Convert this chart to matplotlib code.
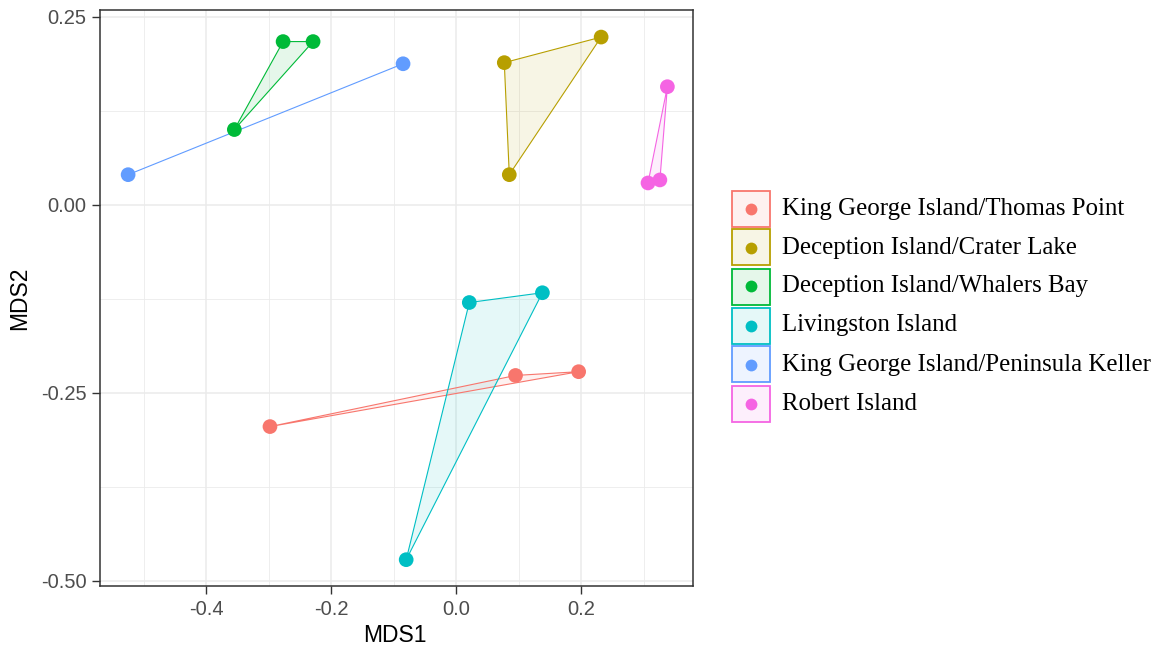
import matplotlib
matplotlib.use("Agg")
import matplotlib.pyplot as plt
from matplotlib.patches import Polygon, Rectangle
from matplotlib.lines import Line2D
import numpy as np

groups = ["King George Island/Thomas Point", "Deception Island/Crater Lake",
          "Deception Island/Whalers Bay", "Livingston Island",
          "King George Island/Peninsula Keller", "Robert Island"]
colors = ["#F8766D", "#B79F00", "#00BA38", "#00BFC4", "#619CFF", "#F564E3"]

mds1 = {
    "King George Island/Thomas Point": [-0.298, 0.095, 0.196],
    "Deception Island/Crater Lake": [0.077, 0.232, 0.085],
    "Deception Island/Whalers Bay": [-0.277, -0.229, -0.355],
    "Livingston Island": [0.021, 0.138, -0.080],
    "King George Island/Peninsula Keller": [-0.525, -0.085],
    "Robert Island": [0.338, 0.307, 0.326],
}
mds2 = {
    "King George Island/Thomas Point": [-0.295, -0.227, -0.222],
    "Deception Island/Crater Lake": [0.189, 0.223, 0.040],
    "Deception Island/Whalers Bay": [0.217, 0.217, 0.100],
    "Livingston Island": [-0.130, -0.117, -0.472],
    "King George Island/Peninsula Keller": [0.040, 0.1875],
    "Robert Island": [0.157, 0.029, 0.033],
}

x_ticks = [-0.4, -0.2, 0.0, 0.2]
x_labels = ["-0.4", "-0.2", "0.0", "0.2"]
y_ticks = [-0.50, -0.25, 0.00, 0.25]
y_labels = ["-0.50", "-0.25", "0.00", "0.25"]


def convex_hull(pts):
    pts = sorted(set(pts))
    if len(pts) <= 2:
        return pts
    def cross(o, a, b):
        return (a[0]-o[0])*(b[1]-o[1]) - (a[1]-o[1])*(b[0]-o[0])
    lower = []
    for p in pts:
        while len(lower) >= 2 and cross(lower[-2], lower[-1], p) <= 0:
            lower.pop()
        lower.append(p)
    upper = []
    for p in reversed(pts):
        while len(upper) >= 2 and cross(upper[-2], upper[-1], p) <= 0:
            upper.pop()
        upper.append(p)
    return lower[:-1] + upper[:-1]


W, H = 1156, 651
fig = plt.figure(figsize=(W/100, H/100), dpi=100)
ax = fig.add_axes([100/W, 1-586/H, (693-100)/W, (586-10)/H])

for g, c in zip(groups, colors):
    pts = list(zip(mds1[g], mds2[g]))
    hull = convex_hull(pts)
    ax.add_patch(Polygon(hull, closed=True, facecolor=c, alpha=0.1,
                         edgecolor="none", zorder=2))
    ax.add_patch(Polygon(hull, closed=True, facecolor="none", edgecolor=c,
                         linewidth=0.8, zorder=3))

for g, c in zip(groups, colors):
    ax.scatter(mds1[g], mds2[g], s=112, color=c, edgecolors="none", zorder=4)

ax.set_xlim(-0.570, 0.379)
ax.set_ylim(-0.507, 0.259)
ax.set_xticks(x_ticks)
ax.set_xticklabels(x_labels)
ax.set_yticks(y_ticks)
ax.set_yticklabels(y_labels)
ax.set_xticks([-0.5, -0.3, -0.1, 0.1, 0.3], minor=True)
ax.set_yticks([-0.375, -0.125, 0.125], minor=True)
ax.grid(True, which="major", color="#EBEBEB", linewidth=1.1, zorder=0)
ax.grid(True, which="minor", color="#EBEBEB", linewidth=0.6, zorder=0)
ax.set_axisbelow(True)
ax.tick_params(which="minor", length=0)
ax.tick_params(which="major", length=5.8, width=1.0, color="#333333",
               labelsize=14.5, labelcolor="#4D4D4D", pad=4)
for lab in ax.get_xticklabels() + ax.get_yticklabels():
    lab.set_fontfamily("Liberation Sans")
for s in ax.spines.values():
    s.set_color("#333333")
    s.set_linewidth(1.1)

ax.set_xlabel("MDS1", fontsize=16.5, fontfamily="Liberation Sans")
ax.set_ylabel("MDS2", fontsize=16.5, fontfamily="Liberation Sans")
ax.xaxis.set_label_coords((395-100)/593, (586-635)/576)
ax.yaxis.set_label_coords((20-100)/593, 0.5)
ax.xaxis.label.set_va("center")
ax.yaxis.label.set_va("center")

# legend drawn in figure pixel coordinates
row0, step = 208.5, 39.0
bx0, bw, bh = 732, 38, 36
for i, (g, c) in enumerate(zip(groups, colors)):
    yc = row0 + step * i
    fig.patches.append(Rectangle((bx0/W, 1-(yc+bh/2)/H), bw/W, bh/H,
                                 transform=fig.transFigure,
                                 facecolor=matplotlib.colors.to_rgba(c, 0.1),
                                 edgecolor=c, linewidth=1.3))
    fig.lines.append(Line2D([(bx0+bw/2)/W], [1-yc/H],
                            transform=fig.transFigure,
                            marker="o", markersize=8.5,
                            markerfacecolor=c, markeredgecolor="none",
                            linestyle="none"))
    fig.text(782/W, 1-yc/H, g, fontsize=17.9, family="Liberation Serif",
             va="center", ha="left", color="black")

fig.savefig("out.png", dpi=100)
